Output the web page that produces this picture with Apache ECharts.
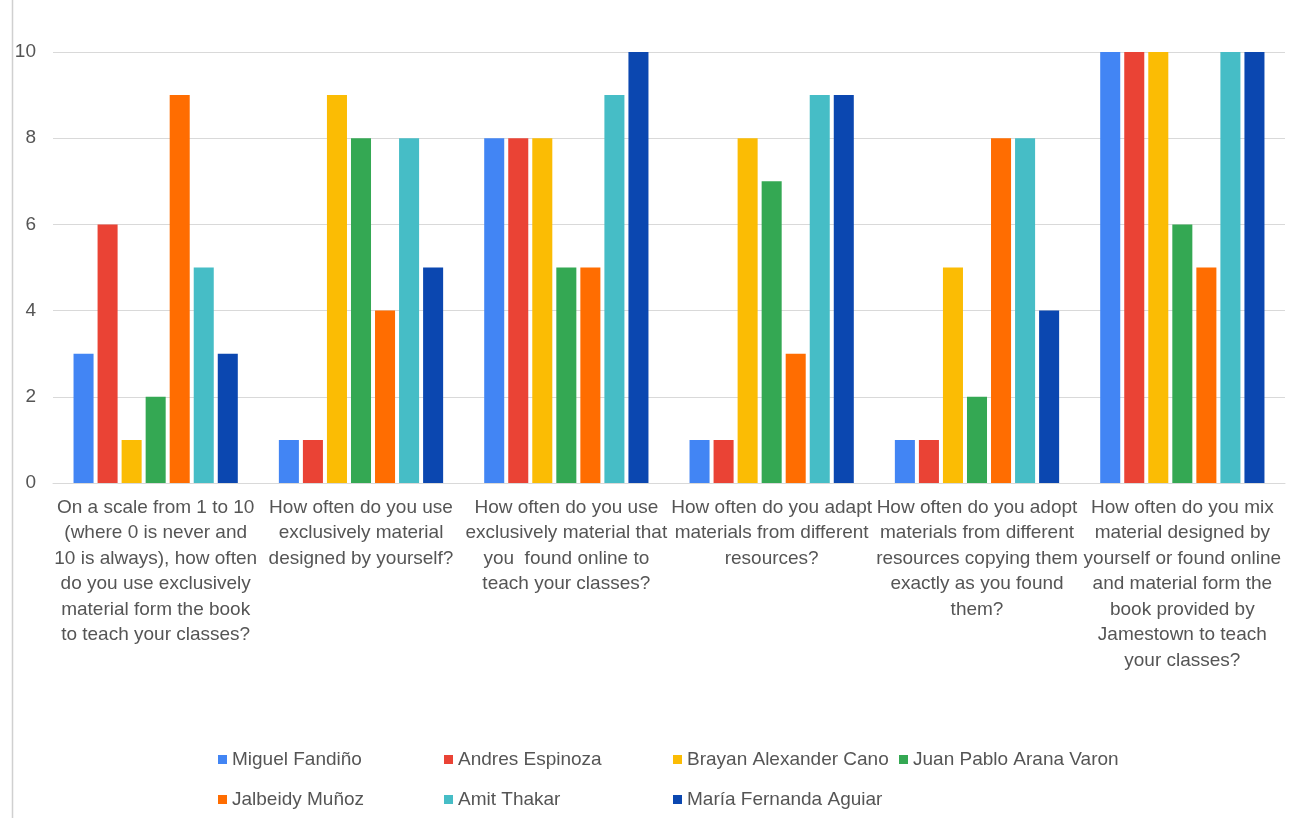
<!DOCTYPE html>
<html>
<head>
<meta charset="utf-8">
<script src="https://cdn.jsdelivr.net/npm/echarts@6/dist/echarts.min.js"></script>
<style>
  html, body { margin: 0; padding: 0; background: #fff; }
  #chart { width: 1308px; height: 823px; }
</style>
</head>
<body>
<div id="chart"></div>
<script>
// preguntas (eje x), con los saltos de linea como en la imagen
const categories = [
  'On a scale from 1 to 10\n(where 0 is never and\n10 is always), how often\ndo you use exclusively\nmaterial form the book\nto teach your classes?',
  'How often do you use\nexclusively material\ndesigned by yourself?',
  'How often do you use\nexclusively material that\nyou  found online to\nteach your classes?',
  'How often do you adapt\nmaterials from different\nresources?',
  'How often do you adopt\nmaterials from different\nresources copying them\nexactly as you found\nthem?',
  'How often do you mix\nmaterial designed by\nyourself or found online\nand material form the\nbook provided by\nJamestown to teach\nyour classes?'
];

const names = ['Miguel Fandiño', 'Andres Espinoza', 'Brayan Alexander Cano', 'Juan Pablo Arana Varon',
  'Jalbeidy Muñoz', 'Amit Thakar', 'María Fernanda Aguiar'];

const miguel   = [3, 1, 8, 1, 1, 10];
const andres   = [6, 1, 8, 1, 1, 10];
const brayan   = [1, 9, 8, 8, 5, 10];
const juan     = [2, 8, 5, 7, 2, 6];
const jalbeidy = [9, 4, 5, 3, 8, 5];
const amit     = [5, 8, 9, 9, 8, 10];
const maria    = [3, 5, 10, 9, 4, 10];

const yTicks = [0, 2, 4, 6, 8, 10];

const colors = ['#4285F4', '#EA4335', '#FBBC04', '#34A853', '#FF6D01', '#46BDC6', '#0B47B0'];
const seriesData = [miguel, andres, brayan, juan, jalbeidy, amit, maria];

const chart = echarts.init(document.getElementById('chart'));

// una leyenda por persona para que queden en columnas
const legendPos = [
  [218, 750], [444, 750], [673, 750], [899, 750],
  [218, 790], [444, 790], [673, 790]
];
const legends = names.map(function (n, i) {
  return {
    data: [n],
    left: legendPos[i][0],
    top: legendPos[i][1],
    icon: 'rect',
    itemWidth: 9,
    itemHeight: 9,
    padding: 0,
    textStyle: { fontFamily: 'Liberation Sans', fontSize: 19, color: '#555' }
  };
});

const option = {
  color: colors,
  animation: false,
  legend: legends,
  grid: { left: 53, right: 23, top: 52, bottom: 340 },
  xAxis: {
    type: 'category',
    data: categories,
    axisLine: { lineStyle: { color: '#d9d9d9' } },
    axisTick: { show: false },
    axisLabel: {
      interval: 0,
      margin: 12,
      fontFamily: 'Liberation Sans',
      fontSize: 19,
      lineHeight: 25.5,
      color: '#555'
    }
  },
  yAxis: {
    type: 'value',
    min: yTicks[0],
    max: yTicks[yTicks.length - 1],
    interval: 2,
    axisLine: { show: false },
    axisTick: { show: false },
    axisLabel: { margin: 17, fontFamily: 'Liberation Sans', fontSize: 19, color: '#555' },
    splitLine: { lineStyle: { color: '#d9d9d9', width: 1 } }
  },
  series: names.map(function (n, i) {
    return {
      name: n,
      type: 'bar',
      data: seriesData[i],
      barGap: '20%',
      barCategoryGap: '20%'
    };
  }),
  graphic: [{
    type: 'line',
    shape: { x1: 12.5, y1: 0, x2: 12.5, y2: 818 },
    style: { stroke: '#d0d0d0', lineWidth: 1.5 }
  }]
};

chart.setOption(option);
</script>
</body>
</html>
